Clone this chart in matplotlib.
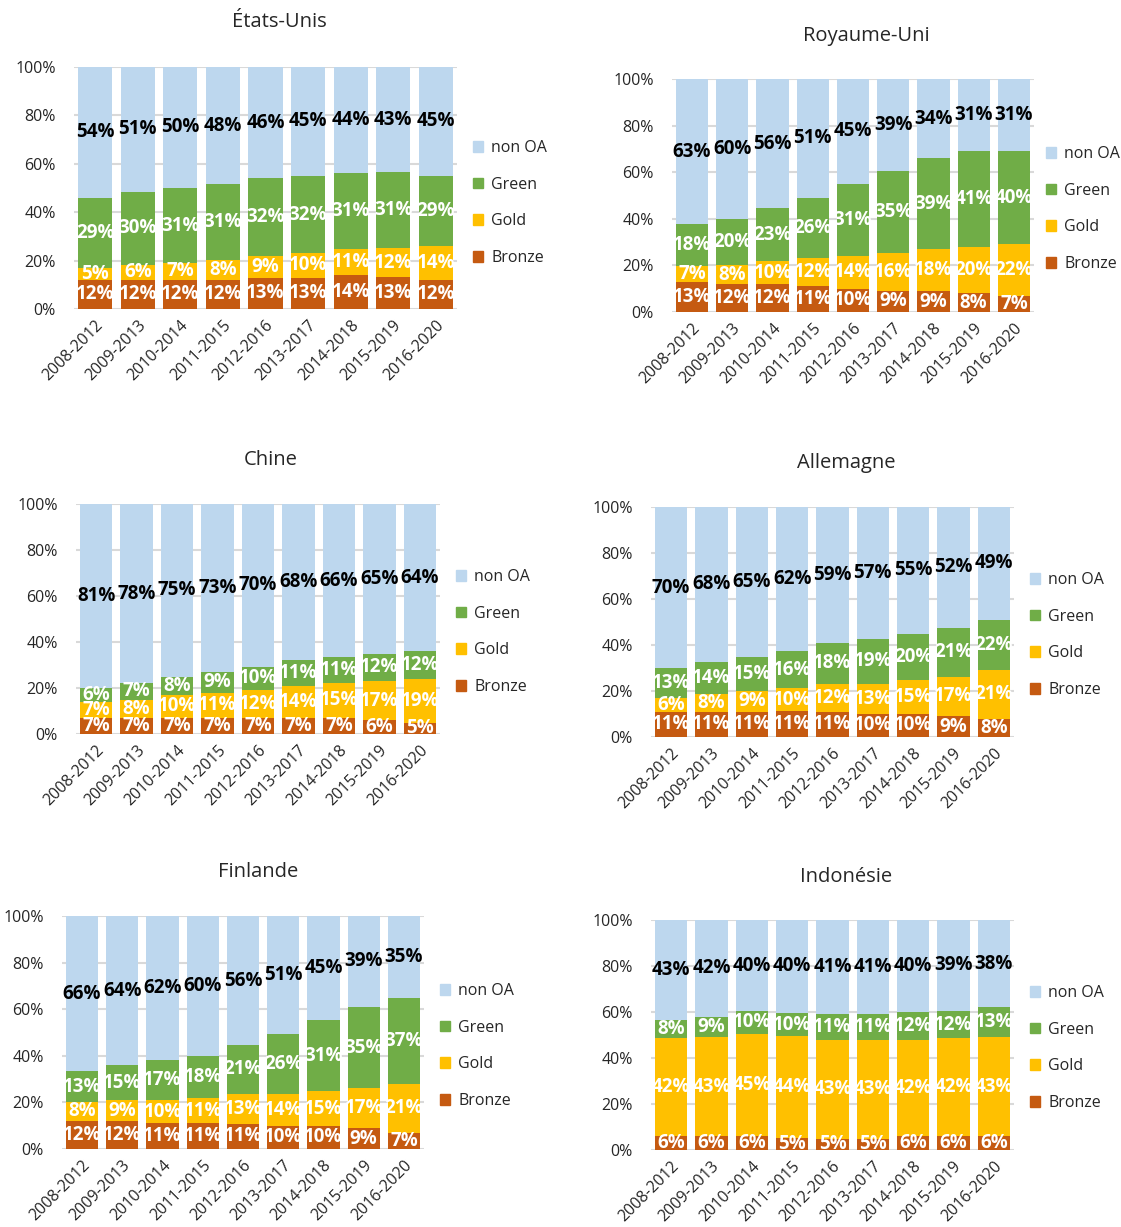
import matplotlib
matplotlib.use("Agg")
import matplotlib.pyplot as plt
import numpy as np
from matplotlib.patches import Patch

plt.rcParams["font.family"] = ["Open Sans", "DejaVu Sans"]

periods = ["2008-2012", "2009-2013", "2010-2014", "2011-2015", "2012-2016",
           "2013-2017", "2014-2018", "2015-2019", "2016-2020"]
categories = ["Bronze", "Gold", "Green", "non OA"]
colors = ["#C55A11", "#FFC000", "#70AD47", "#BDD7EE"]
label_colors = ["white", "white", "white", "black"]

countries = ["États-Unis", "Royaume-Uni", "Chine", "Allemagne", "Finlande", "Indonésie"]

us_bronze = [12, 12, 12, 12, 13, 13, 14, 13, 12]
us_gold = [5, 6, 7, 8, 9, 10, 11, 12, 14]
us_green = [29, 30, 31, 31, 32, 32, 31, 31, 29]
us_nonoa = [54, 51, 50, 48, 46, 45, 44, 43, 45]

uk_bronze = [13, 12, 12, 11, 10, 9, 9, 8, 7]
uk_gold = [7, 8, 10, 12, 14, 16, 18, 20, 22]
uk_green = [18, 20, 23, 26, 31, 35, 39, 41, 40]
uk_nonoa = [63, 60, 56, 51, 45, 39, 34, 31, 31]

cn_bronze = [7, 7, 7, 7, 7, 7, 7, 6, 5]
cn_gold = [7, 8, 10, 11, 12, 14, 15, 17, 19]
cn_green = [6, 7, 8, 9, 10, 11, 11, 12, 12]
cn_nonoa = [81, 78, 75, 73, 70, 68, 66, 65, 64]

de_bronze = [11, 11, 11, 11, 11, 10, 10, 9, 8]
de_gold = [6, 8, 9, 10, 12, 13, 15, 17, 21]
de_green = [13, 14, 15, 16, 18, 19, 20, 21, 22]
de_nonoa = [70, 68, 65, 62, 59, 57, 55, 52, 49]

fi_bronze = [12, 12, 11, 11, 11, 10, 10, 9, 7]
fi_gold = [8, 9, 10, 11, 13, 14, 15, 17, 21]
fi_green = [13, 15, 17, 18, 21, 26, 31, 35, 37]
fi_nonoa = [66, 64, 62, 60, 56, 51, 45, 39, 35]

id_bronze = [6, 6, 6, 5, 5, 5, 6, 6, 6]
id_gold = [42, 43, 45, 44, 43, 43, 42, 42, 43]
id_green = [8, 9, 10, 10, 11, 11, 12, 12, 13]
id_nonoa = [43, 42, 40, 40, 41, 41, 40, 39, 38]

series = [
    (us_bronze, us_gold, us_green, us_nonoa),
    (uk_bronze, uk_gold, uk_green, uk_nonoa),
    (cn_bronze, cn_gold, cn_green, cn_nonoa),
    (de_bronze, de_gold, de_green, de_nonoa),
    (fi_bronze, fi_gold, fi_green, fi_nonoa),
    (id_bronze, id_gold, id_green, id_nonoa),
]

W, H = 1121, 1227
# pixel layout: axes left, right, top (100%), bottom (0%), title x, title y, legend x, legend centre y
layout = [
    (74, 457, 67, 309, 279, 22, 473, 203),
    (672, 1034, 79, 312, 866, 36, 1046, 209),
    (76, 440, 504, 734, 271, 460, 456, 632),
    (651, 1014, 507, 737, 846, 463, 1030, 635),
    (62, 424, 916, 1149, 258, 872, 440, 1046),
    (651, 1014, 920, 1150, 846, 877, 1030, 1048),
]

fig = plt.figure(figsize=(W / 100, H / 100), dpi=100)
x = np.arange(len(periods))

for name, data, (l, r, t, b, tx, ty, lx, ly) in zip(countries, series, layout):
    ax = fig.add_axes([l / W, 1 - b / H, (r - l) / W, (b - t) / H])
    vals = np.array(data, dtype=float)
    pct = vals / vals.sum(axis=0) * 100  # 100% stacked
    bottom = np.zeros(len(periods))
    handles = []
    for i, cat in enumerate(categories):
        ax.bar(x, pct[i], 0.8, bottom=bottom, color=colors[i], zorder=2)
        for j in range(len(periods)):
            ax.text(x[j], bottom[j] + pct[i][j] / 2, f"{int(vals[i][j])}%",
                    ha="center", va="center", color=label_colors[i],
                    fontsize=13.5, fontweight="bold", zorder=3)
        bottom += pct[i]
        handles.append(Patch(color=colors[i], label=cat))

    ax.set_xlim(-0.5, len(periods) - 0.5)
    ax.set_ylim(0, 100)
    ax.set_yticks(range(0, 101, 20))
    ax.set_yticklabels([f"{v}%" for v in range(0, 101, 20)], fontsize=11.5, color="#262626")
    ax.set_xticks(x)
    ax.set_xticklabels(periods, rotation=45, ha="right", rotation_mode="anchor",
                       fontsize=11.5, color="#262626")
    ax.tick_params(length=0, axis="y", pad=13)
    ax.tick_params(length=0, axis="x", pad=6)
    for spine in ax.spines.values():
        spine.set_visible(False)
    ax.yaxis.grid(True, color="#D9D9D9", linewidth=1.5, zorder=0)
    ax.set_axisbelow(True)

    fig.text(tx / W, 1 - ty / H, name, ha="center", va="center",
             fontsize=14.5, color="#262626")

    fig.legend(handles=handles[::-1], loc="center left",
               bbox_to_anchor=(lx / W, 1 - ly / H), frameon=False,
               fontsize=11.5, handlelength=0.65, handleheight=0.65,
               handletextpad=0.5, labelspacing=1.3, borderpad=0,
               borderaxespad=0, labelcolor="#262626")

fig.savefig("out.png", dpi=100, facecolor="white")
